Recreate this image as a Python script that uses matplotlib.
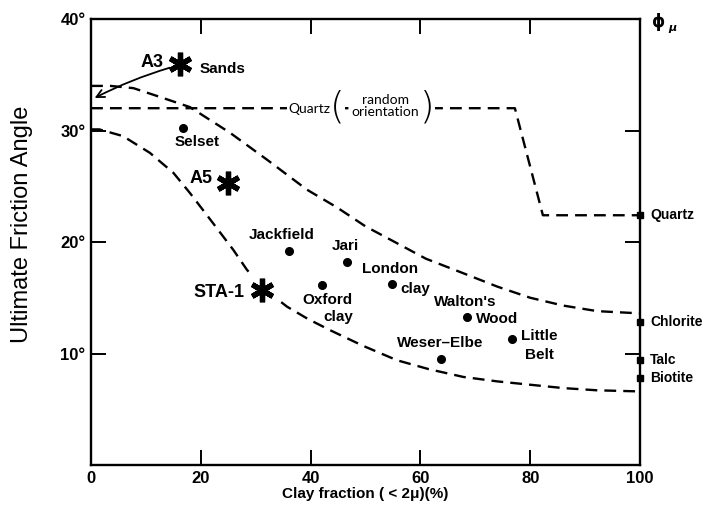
import matplotlib.pyplot as plt
from matplotlib.patches import FancyArrowPatch

# envelope curves (clay fraction %, friction angle deg)
upper_x = [0, 3.5, 7.7, 12.6, 18, 25.3, 32, 39.3, 44.8, 50, 55.7, 61, 67.8, 74, 80, 86, 92.2, 100]
upper_y = [34.0, 34.0, 33.8, 33.0, 32.1, 29.8, 27.4, 24.7, 23.1, 21.4, 19.9, 18.5, 17.2, 16.0,
           15.0, 14.3, 13.8, 13.6]
lower_x = [0, 1.5, 5.8, 10.7, 15, 18, 22.2, 25.9, 28.4, 31.5, 35.7, 39.5, 43.5, 49.5, 55.7,
           61.5, 67.8, 74, 80, 86, 92.2, 100]
lower_y = [30.1, 30.1, 29.5, 28.0, 26.2, 24.4, 21.7, 19.3, 17.5, 15.8, 14.2, 13.1, 12.1, 10.7,
           9.4, 8.6, 7.9, 7.5, 7.2, 6.9, 6.7, 6.6]

# quartz, random orientation
quartz_x = [0, 77.2, 82.3, 100]
quartz_y = [32.0, 32.0, 22.4, 22.4]

# natural clays
soils = ['Selset', 'Jackfield', 'Jari', 'Oxford clay', 'London clay',
         "Walton's Wood", 'Little Belt', 'Weser-Elbe']
soil_x = [16.7, 36.1, 46.6, 42.1, 54.8, 68.5, 76.7, 63.8]
soil_y = [30.2, 19.2, 18.2, 16.1, 16.2, 13.3, 11.3, 9.5]

# tested samples
samples = ['A3', 'A5', 'STA-1']
sample_x = [16.2, 25.0, 31.1]
sample_y = [36.0, 25.3, 15.7]

# residual angle of pure minerals
minerals = ['Quartz', 'Chlorite', 'Talc', 'Biotite']
mineral_phi = [22.4, 12.8, 9.4, 7.8]

narrow = ['Liberation Sans Narrow', 'Liberation Sans', 'DejaVu Sans']
lab = dict(family=narrow, fontweight='bold', fontsize=11)

fig = plt.figure(figsize=(7.06, 5.08), dpi=100)
ax = fig.add_axes([0.129, 0.0846, 0.7776, 0.878])
ax.set_xlim(0, 100)
ax.set_ylim(0, 40)

dash = dict(color='black', lw=1.7, ls=(0, (5, 3)), solid_capstyle='butt')
ax.plot(upper_x, upper_y, **dash)
ax.plot(lower_x, lower_y, **dash)
ax.plot(quartz_x, quartz_y, **dash, clip_on=False)

ax.plot(soil_x, soil_y, 'o', color='black', ms=5.5)

# clear the envelope around STA-1
ax.plot(sample_x[2], sample_y[2], 'o', color='white', ms=30, zorder=3)
ax.plot(sample_x, sample_y, ls='none', marker=(6, 2, 0), color='black',
        ms=17, mew=3.8, zorder=4)

# soil labels
ax.text(19.3, 29.0, 'Selset', ha='center', va='center', **lab)
ax.text(34.8, 20.6, 'Jackfield', ha='center', va='center', **lab)
ax.text(46.3, 19.6, 'Jari', ha='center', va='center', **lab)
ax.text(43.0, 14.8, 'Oxford', ha='center', va='center', **lab)
ax.text(45.0, 13.3, 'clay', ha='center', va='center', **lab)
ax.text(54.5, 17.6, 'London', ha='center', va='center', **lab)
ax.text(56.3, 15.8, 'clay', ha='left', va='center', **lab)
ax.text(68.1, 14.6, "Walton's", ha='center', va='center', **lab)
ax.text(70.2, 13.1, 'Wood', ha='left', va='center', **lab)
ax.text(78.4, 11.6, 'Little', ha='left', va='center', **lab)
ax.text(81.6, 9.9, 'Belt', ha='center', va='center', **lab)
ax.text(63.6, 10.9, 'Weser\u2013Elbe', ha='center', va='center', **lab)
ax.text(23.9, 35.5, 'Sands', ha='center', va='center', **lab)

big = dict(family=['Liberation Sans', 'DejaVu Sans'], fontweight='bold', fontsize=13)
ax.text(11.1, 36.1, 'A3', ha='center', va='center', **big)
ax.text(20.0, 25.7, 'A5', ha='center', va='center', **big)
ax.text(23.3, 15.5, 'STA-1', ha='center', va='center', **big)

# A3 arrow to the axis
arr = FancyArrowPatch((14.8, 35.7), (0.2, 32.8), arrowstyle='->', mutation_scale=14,
                      connectionstyle='arc3,rad=0.05', color='black', lw=1.3)
ax.add_patch(arr)

# quartz label
qf = dict(family=['Lato', 'DejaVu Sans'], fontsize=10, ha='center', va='center',
          bbox=dict(facecolor='white', edgecolor='none', pad=1))
ax.text(39.7, 31.9, 'Quartz', **qf)
ax.text(53.6, 32.2, 'random\norientation', linespacing=0.95, **qf)
par = dict(family='DejaVu Sans', fontsize=27, ha='center', va='center', fontweight='light',
           bbox=dict(facecolor='white', edgecolor='none', pad=0))
ax.text(44.9, 32.1, '(', **par)
ax.text(61.3, 32.1, ')', **par)

# minerals on the right axis
ax.plot([100] * len(mineral_phi), mineral_phi, 's', color='black', ms=5, clip_on=False, zorder=5)
for name, phi in zip(minerals, mineral_phi):
    ax.text(101.8, phi, name, ha='left', va='center', clip_on=False,
            family=narrow, fontweight='bold', fontsize=10)
ax.text(102.2, 39.7, '\u03d5', family='DejaVu Sans', fontweight='bold', fontsize=12,
        ha='left', va='center')
ax.text(105.2, 39.2, '\u03bc', family='DejaVu Sans', fontweight='bold', fontstyle='italic',
        fontsize=8, ha='left', va='center')

for s in ax.spines.values():
    s.set_linewidth(1.7)
ax.tick_params(direction='in', top=True, right=True, length=11, width=1.4, pad=4)
ax.set_xticks([0, 20, 40, 60, 80, 100])
ax.set_xticklabels(['0', '20', '40', '60', '80', '100'], family=narrow, fontweight='bold',
                   fontsize=12)
ax.set_yticks([10, 20, 30, 40])
ax.set_yticklabels(['10\u00b0', '20\u00b0', '30\u00b0', '40\u00b0'], family=narrow,
                   fontweight='bold', fontsize=12)
ax.set_xlabel('Clay fraction ( < 2\u03bc)(%)', labelpad=1, **lab)
ax.set_ylabel('Ultimate Friction Angle', family=['Liberation Sans', 'DejaVu Sans'], fontsize=17)
ax.yaxis.set_label_coords(-0.105, 0.54)

fig.savefig('out.png', dpi=100)
